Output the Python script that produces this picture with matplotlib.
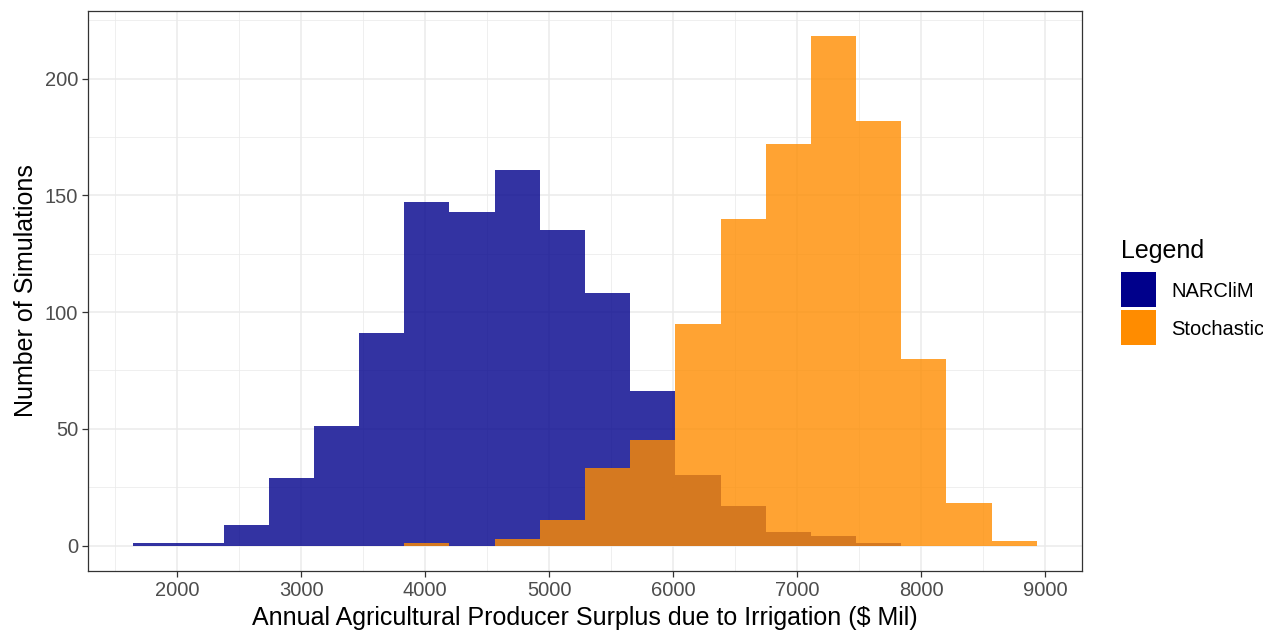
import numpy as np
import matplotlib.pyplot as plt
from matplotlib.patches import Rectangle

plt.rcParams['font.family'] = ['Liberation Sans', 'DejaVu Sans']

# shared histogram bins (20 bins)
bin_start = 1646
bin_end = 8932
n_bins = 20

narclim_counts = [1, 1, 9, 29, 51, 91, 147, 143, 161, 135,
                  108, 66, 30, 17, 6, 4, 1, 0, 0, 0]
stochastic_counts = [0, 0, 0, 0, 0, 0, 1, 0, 3, 11,
                     33, 45, 95, 140, 172, 218, 182, 80, 18, 2]

series_names = ['NARCliM', 'Stochastic']
series_colors = ['#00008B', '#FF8C00']

x_major = [2000, 3000, 4000, 5000, 6000, 7000, 8000, 9000]
x_minor = [1500, 2500, 3500, 4500, 5500, 6500, 7500, 8500]
y_major = [0, 50, 100, 150, 200]
y_minor = [25, 75, 125, 175, 225]

W, H = 1263, 630
edges = np.linspace(bin_start, bin_end, n_bins + 1)

fig = plt.figure(figsize=(W / 100, H / 100), dpi=100)
ax = fig.add_axes([0.0697, 0.0937, 0.787, 0.8888])

for counts, color in zip([narclim_counts, stochastic_counts], series_colors):
    ax.stairs(counts, edges, fill=True, color=color, alpha=0.8, linewidth=0, zorder=3)

ax.set_xlim(1282, 9296)
ax.set_ylim(-10.9, 228.9)
ax.set_xticks(x_major)
ax.set_xticks(x_minor, minor=True)
ax.set_yticks(y_major)
ax.set_yticks(y_minor, minor=True)

ax.grid(which='major', color='#EBEBEB', linewidth=1.1, zorder=0)
ax.grid(which='minor', color='#EBEBEB', linewidth=0.55, zorder=0)
ax.set_axisbelow(True)

for s in ax.spines.values():
    s.set_color('#333333')
    s.set_linewidth(0.9)

ax.tick_params(which='major', length=4, width=0.9, color='#333333',
               labelsize=14.5, labelcolor='#4D4D4D', pad=3)
ax.tick_params(which='minor', length=0)

ax.set_xlabel('Annual Agricultural Producer Surplus due to Irrigation ($ Mil)',
              fontsize=18, labelpad=4.5)
ax.set_ylabel('Number of Simulations', fontsize=18, labelpad=5)

# legend drawn by hand (pixel positions -> figure fraction)
key_x, key_top, key_size, key_step = 1121, 271.7, 35, 38.5
fig.text(key_x / W, 1 - 258 / H, 'Legend', fontsize=18, ha='left', va='baseline')
for i, (name, color) in enumerate(zip(series_names, series_colors)):
    top = key_top + i * key_step
    fig.add_artist(Rectangle((key_x / W, 1 - (top + key_size) / H),
                             key_size / W, key_size / H,
                             transform=fig.transFigure, facecolor=color,
                             edgecolor='none'))
    fig.text(1171 / W, 1 - (top + key_size / 2) / H, name, fontsize=14.5,
             ha='left', va='center_baseline')

fig.savefig('out.png', dpi=100)
